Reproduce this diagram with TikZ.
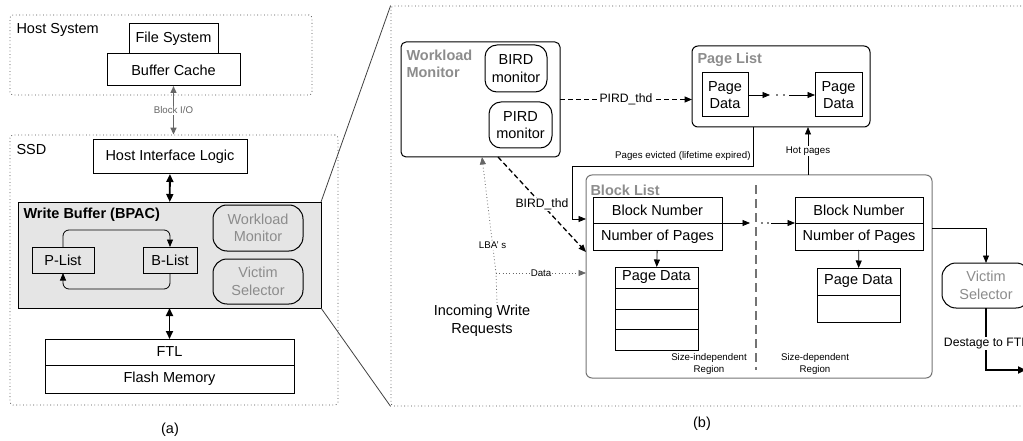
\documentclass[tikz,border=0pt]{standalone}
\usepackage{fontspec}
\setmainfont{Liberation Sans}
\usepackage{tikz}
\usetikzlibrary{positioning,arrows.meta}

\begin{document}
\begin{tikzpicture}[x=1pt, y=-1pt, line width=1pt, font=\fontsize{14.5}{17.5}\selectfont,
  every node/.style={inner sep=2pt},
  box/.style={draw, inner sep=0pt, outer sep=0pt, align=center},
  rbox/.style={box, rounded corners=6pt},
  soft/.style={box, rounded corners=14pt, text=black!45},
  group/.style={draw=black!70, line width=0.8pt, dash pattern=on 0.8pt off 2.6pt, rounded corners=3pt, inner sep=0pt},
  heading/.style={font=\fontsize{14.5}{17.5}\selectfont\bfseries, text=black!45, align=left},
  smalltext/.style={font=\fontsize{9.7}{12}\selectfont},
  midtext/.style={font=\fontsize{12.2}{14.5}\selectfont},
  tag/.style={fill=white, inner sep=1pt},
  link/.style={-{Triangle[length=7.5pt, width=6pt]}, line width=0.8pt},
  dashlink/.style={link, line width=1.3pt, dash pattern=on 5pt off 3pt},
  dotlink/.style={link, draw=black!60, dash pattern=on 0.8pt off 2.5pt},
  iolink/.style={{Triangle[length=7pt, width=6pt]}-{Triangle[length=7pt, width=6pt]}, line width=1.4pt, black!60},
  bus/.style={{Triangle[length=8pt, width=7pt]}-{Triangle[length=8pt, width=7pt]}, line width=1.8pt},
  destage/.style={-{Triangle[length=8pt, width=7pt]}, line width=2.6pt},
  divider/.style={draw=black!55, line width=2.5pt, dash pattern=on 9pt off 5pt}]
\useasboundingbox (0,0) rectangle (1023,441);

\node[group, minimum width=302pt, minimum height=80pt] (host) at (161,55) {};
\node[anchor=west] (hostlbl) at (14,30) {Host System};
\node[box, minimum width=89pt, minimum height=30pt] (fs) at (173.5,39) {File System};
\node[box, fill=white, minimum width=133pt, minimum height=32pt] (bc) at (173.5,70) {Buffer Cache};
\node[group, minimum width=328pt, minimum height=270pt] (ssd) at (174,270) {};
\node[anchor=west] (ssdlbl) at (14,150) {SSD};
\node[box, minimum width=154pt, minimum height=34pt] (hil) at (170,157) {Host Interface Logic};
\node[box, fill=black!10, minimum width=303pt, minimum height=106pt] (wbuf) at (169.5,255) {};
\node[anchor=west, font=\fontsize{14.5}{17.5}\selectfont\bfseries] (wbuflbl) at (21,215) {Write Buffer (BPAC)};
\node[box, minimum width=62pt, minimum height=26pt] (plist) at (63,260) {P-List};
\node[box, minimum width=54pt, minimum height=26pt] (blist) at (170,260) {B-List};
\node[soft, minimum width=90pt, minimum height=46pt] (wmona) at (258,228) {Workload\\Monitor};
\node[soft, minimum width=90pt, minimum height=45pt] (vsela) at (258,281.5) {Victim\\Selector};
\node[box, minimum width=249pt, minimum height=26pt] (ftl) at (169.5,352) {FTL};
\node[box, minimum width=249pt, minimum height=28pt, below=0pt of ftl] (flash) {Flash Memory};
\node (capa) at (170,430) {(a)};

\draw[iolink] (bc.south) -- (bc.south |- ssd.north) node[midway, tag, smalltext] {Block I/O};
\draw[bus] (hil) -- (wbuf);
\draw[bus] (wbuf) -- (ftl);
\draw[link, rounded corners=6pt] (plist.north) -- ++(0,-17) -| (blist.north);
\draw[link, rounded corners=6pt] (blist.south) -- ++(0,16) -| (plist.south);

\node[group, minimum width=650pt, minimum height=400pt] (panelb) at (716,206) {};
\draw[line width=0.8pt, black!75] (wbuf.north east) -- (panelb.north west);
\draw[line width=0.8pt, black!75] (wbuf.south east) -- (panelb.south west);

\node[rbox, rounded corners=5pt, minimum width=159pt, minimum height=115pt] (wmon) at (480.5,99.5) {};
\node[heading, anchor=west] (wmonlbl) at (404,64) {Workload\\Monitor};
\node[box, rounded corners=12pt, minimum width=62pt, minimum height=47pt] (bird) at (516,68.5) {BIRD\\monitor};
\node[box, rounded corners=12pt, minimum width=63pt, minimum height=46pt] (pird) at (520.5,125) {PIRD\\monitor};

\node[rbox, minimum width=178pt, minimum height=81pt] (pagelist) at (781,86.5) {};
\node[heading, anchor=west] (pagelistlbl) at (695,60) {Page List};
\node[box, minimum width=46pt, minimum height=44pt] (pd1) at (725,95) {Page\\Data};
\node[box, minimum width=47pt, minimum height=44pt] (pd2) at (838.5,95) {Page\\Data};
\draw[link] (pd1.east) -- ++(22,0);
\fill (777,95) circle (0.9) (784,95) circle (0.9);
\draw[link] ([xshift=-26pt]pd2.west) -- (pd2.west);

\node[rbox, draw=black!55, minimum width=346pt, minimum height=203pt] (blocklist) at (759,276.5) {};
\node[heading, anchor=west] (blocklistlbl) at (588,190) {Block List};
\node[box, minimum width=129pt, minimum height=26pt] (bn1) at (657.5,210) {Block Number};
\node[box, minimum width=129pt, minimum height=27pt, below=0pt of bn1] (np1) {Number of Pages};
\node[box, minimum width=83pt, minimum height=21pt] (pgd1) at (656.5,277.5) {Page Data};
\node[box, minimum width=83pt, minimum height=21pt, below=0pt of pgd1] (pgd1a) {};
\node[box, minimum width=83pt, minimum height=20pt, below=0pt of pgd1a] (pgd1b) {};
\node[box, minimum width=83pt, minimum height=21pt, below=0pt of pgd1b] (pgd1c) {};
\draw[link] (np1) -- (pgd1);
\draw[divider] (756,185) -- (756,370);
\node[box, minimum width=128pt, minimum height=26pt] (bn2) at (859,210) {Block Number};
\node[box, minimum width=128pt, minimum height=27pt, below=0pt of bn2] (np2) {Number of Pages};
\node[box, minimum width=83pt, minimum height=27pt] (pgd2) at (858.5,281.5) {Page Data};
\node[box, minimum width=83pt, minimum height=27pt, below=0pt of pgd2] (pgd2a) {};
\draw[link] (np2) -- (pgd2);
\draw[link] (bn1.south east) -- ++(28,0);
\fill (762,223) circle (0.9) (768,223) circle (0.9);
\draw[link] ([xshift=-24pt]bn2.south west) -- (bn2.south west);
\node[smalltext, align=center] (sizeind) at (709,364) {Size-independent\\Region};
\node[smalltext, align=center] (sizedep) at (815,364) {Size-dependent\\Region};

\draw[dashlink] (wmon.east) -- (wmon.east -| pagelist.west) node[midway, tag, midtext] {PIRD\_thd};
\coordinate (evict) at (572,166);
\draw[link] ([xshift=-28pt]pagelist.south) |- (evict) |- (blocklist.west |- 0,219);
\node[smalltext, anchor=east] (evictlbl) at (753,156) {Pages evicted (lifetime expired)};
\draw[link] (blocklist.north -| 808,0) -- (pagelist.south -| 808,0) node[midway, tag, smalltext] {Hot pages};
\draw[dashlink] ([xshift=17.5pt]wmon.south) -- (blocklist.west |- 0,252) node[midway, tag, midtext] {BIRD\_thd};

\node[align=center] (incoming) at (482,321) {Incoming Write\\Requests};
\coordinate (fork) at (496,273);
\draw[dotlink] ([xshift=15pt]incoming.north) -- (fork) -- ([xshift=1.5pt]wmon.south) node[pos=0.24, tag, smalltext] {LBA’ s};
\draw[dotlink] (fork) -- (blocklist.west |- fork) node[midway, tag, smalltext] {Data};

\node[soft, minimum width=88pt, minimum height=45pt] (vsel) at (986,285.5) {Victim\\Selector};
\draw[link] (blocklist.east |- 0,228) -| (vsel.north);
\coordinate (ftlout) at (1026,370);
\draw[destage] (vsel.south) |- (ftlout) node[pos=0.29, tag, midtext] {Destage to FTL};
\node (capb) at (702,424) {(b)};
\end{tikzpicture}
\end{document}
